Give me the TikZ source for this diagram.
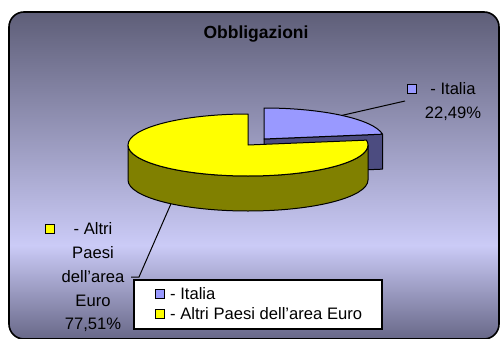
\documentclass[tikz,border=0pt]{standalone}
\usepackage{fontspec}
\setmainfont{Liberation Sans}
\begin{document}
\begin{tikzpicture}[x=1pt,y=1pt,
  lbl/.style={inner sep=0pt,font=\fontsize{16.6}{18}\selectfont},
  sq/.style={draw=black,line width=1.1pt,minimum size=9pt,inner sep=0pt},
  edge/.style={draw=black,line width=1pt,line join=round},
  leader/.style={draw=black,line width=1pt}]
\useasboundingbox (0,0) rectangle (500,338);
\fill[white] (0,0) rectangle (500,338);
% frame background
\begin{scope}
\clip[rounded corners=15pt] (9,-1) rectangle (499,326);
\shade[top color={rgb,255:red,94;green,94;blue,120},bottom color={rgb,255:red,203;green,203;blue,247}] (9,326) rectangle (499,92);
\shade[top color={rgb,255:red,203;green,203;blue,247},bottom color={rgb,255:red,104;green,104;blue,136}] (9,93) rectangle (499,-1);
\end{scope}
\draw[black,line width=1.6pt,rounded corners=15pt] (9,-1) rectangle (499,326);
% title
\node[inner sep=0pt,font=\fontsize{17.5}{19}\selectfont\bfseries] (title) at (256,304) {Obbligazioni};
% pie coordinates
\coordinate (cb) at (264,199);
\coordinate (cy) at (248,193);
% blue radial face
\draw[edge,fill={rgb,255:red,76;green,76;blue,128}] (cb) -- (382.5,203.85) -- (382.5,168.85) -- (264,164) -- cycle;
% blue top
\draw[edge,fill={rgb,255:red,153;green,153;blue,255}] (cb) -- (264,230) arc[start angle=90,end angle=9,x radius=120pt,y radius=31pt] -- cycle;
% yellow side
\draw[edge,fill={rgb,255:red,128;green,128;blue,0}] (128,193) -- (128,158) arc[start angle=180,end angle=360,x radius=120pt,y radius=31pt] -- (368,193) arc[start angle=360,end angle=180,x radius=120pt,y radius=31pt] -- cycle;
% yellow top
\draw[edge,fill={rgb,255:red,255;green,255;blue,0}] (cy) -- (248,224) arc[start angle=90,end angle=369,x radius=120pt,y radius=31pt] -- cycle;
% leader anchor points
\coordinate (bl) at (341.9,222.6);
\coordinate (yl) at (171,134.3);
% Italia label
\node[sq,fill={rgb,255:red,153;green,153;blue,255}] (sqI) at (412,249) {};
\node[lbl] (tI1) at (453,249) {- Italia};
\node[lbl] (tI2) at (453,224) {22,49\%};
\coordinate (lI) at (405,237);
\draw[leader] (bl) -- (lI);
% Altri label
\node[sq,fill={rgb,255:red,255;green,255;blue,0}] (sqA) at (50,109) {};
\node[lbl] (tA1) at (93,109) {- Altri};
\node[lbl] (tA2) at (93,85) {Paesi};
\node[lbl] (tA3) at (93,61) {dell’area};
\node[lbl] (tA4) at (93,37) {Euro};
\node[lbl] (tA5) at (93,13) {77,51\%};
\coordinate (lA1) at (139,61);
\coordinate (lA2) at (131,61);
\draw[leader] (yl) -- (lA1) -- (lA2);
% legend
\node[draw=black,line width=1.2pt,fill=white,minimum width=248pt,minimum height=49pt,inner sep=0pt] (legend) at (258,33.5) {};
\node[sq,fill={rgb,255:red,153;green,153;blue,255}] (lgsq1) at (160,44) {};
\node[lbl,anchor=west] (lgt1) at (170,44) {- Italia};
\node[sq,fill={rgb,255:red,255;green,255;blue,0}] (lgsq2) at (160,24) {};
\node[lbl,anchor=west] (lgt2) at (170,24) {- Altri Paesi dell’area Euro};
\end{tikzpicture}
\end{document}
